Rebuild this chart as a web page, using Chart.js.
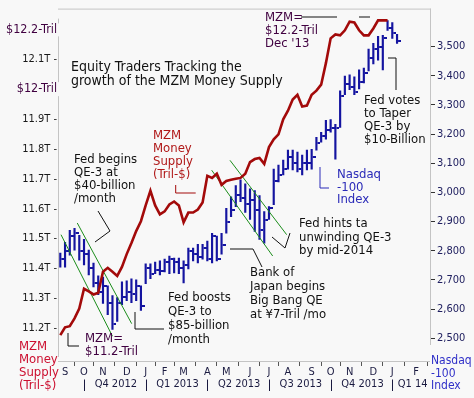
<!DOCTYPE html>
<html><head><meta charset="utf-8">
<script src="https://cdn.jsdelivr.net/npm/chart.js@4.4.1/dist/chart.umd.min.js"></script>
<style>
html,body{margin:0;padding:0;background:#f8f8f8;overflow:hidden;}
#c{display:block;}
</style></head><body>
<canvas id="c" width="474" height="398"></canvas>
<script>
// ---------- DATA ----------
const monthLabels = ['S','O','N','D','J','F','M','A','M','J','J','A','S','O','N','D','J','F'];
const monthTickWeeks = [1,5,9,14,18,22,26,31,35,40,44,48,53,57,61,66,70,75];
const quarterLabels = ['Q4 2012','Q1 2013','Q2 2013','Q3 2013','Q4 2013','Q1 14'];
const quarterStartWeeks = [5,18,31,44,57,70];

const mzmTickValues = [11.2,11.3,11.4,11.5,11.6,11.7,11.8,11.9,12.0,12.1,12.2];
const mzmTickLabels = ['11.2T','11.3T','11.4T','11.5T','11.6T','11.7T','11.8T','11.9T','$12-Tril','12.1T','$12.2-Tril'];
const ndxTickValues = [2500,2600,2700,2800,2900,3000,3100,3200,3300,3400,3500];
const ndxTickLabels = ['2,500','2,600','2,700','2,800','2,900','3,000','3,100','3,200','3,300','3,400','3,500'];

// MZM money supply, $ trillions, weekly (week 0 = 31 Aug 2012)
const mzmSupply = [
 11.177,11.203,11.207,11.233,11.266,11.332,11.323,11.313,11.319,11.389,
 11.402,11.389,11.375,11.405,11.448,11.485,11.525,11.558,11.611,11.660,
 11.611,11.581,11.591,11.614,11.624,11.611,11.554,11.587,11.587,11.597,
 11.621,11.710,11.703,11.717,11.680,11.693,11.697,11.700,11.703,11.717,
 11.756,11.766,11.770,11.750,11.806,11.832,11.849,11.899,11.928,11.965,
 11.981,11.942,11.945,11.981,11.995,12.015,12.087,12.170,12.183,12.180,
 12.197,12.226,12.223,12.197,12.180,12.180,12.203,12.230,12.230,12.230];

// Nasdaq-100 weekly high / low / close
const ndxHigh = [
 2792,2829,2870,2877,2853,2839,2802,2758,2714,2710,
 2680,2646,2639,2693,2697,2704,2700,2680,2755,2755,
 2761,2765,2771,2782,2775,2775,2765,2809,2809,2822,
 2822,2833,2860,2850,2860,2945,2985,3023,3043,3029,
 3012,3006,2989,2934,2951,3080,3094,3111,3145,3145,
 3138,3128,3145,3148,3189,3206,3247,3250,3233,3348,
 3399,3403,3396,3420,3426,3491,3511,3535,3538,3589,
 3582,3542];
const ndxLow = [
 2744,2744,2785,2802,2768,2751,2717,2676,2649,2619,
 2581,2530,2558,2615,2629,2622,2629,2595,2687,2704,
 2721,2717,2727,2721,2724,2721,2690,2738,2765,2758,
 2771,2765,2758,2765,2788,2860,2917,2951,2968,2931,
 2907,2866,2839,2826,2907,2958,3036,3060,3080,3077,
 3070,3060,3077,3080,3145,3172,3182,3206,3114,3223,
 3335,3352,3335,3355,3375,3416,3440,3453,3420,3555,
 3528,3511];
const ndxClose = [
 2770,2800,2850,2860,2800,2790,2740,2690,2660,2680,
 2620,2550,2620,2640,2660,2650,2680,2610,2740,2720,
 2735,2730,2760,2770,2760,2740,2750,2800,2790,2780,
 2810,2770,2850,2770,2820,2900,2940,2990,2980,2960,
 2975,2940,2870,2905,2945,3040,3060,3080,3120,3100,
 3080,3100,3100,3120,3170,3195,3215,3220,3220,3330,
 3370,3360,3345,3380,3410,3460,3490,3500,3530,3565,
 3545,3520];

// trend channels (week, Nasdaq level)
const channel1Lower = [[0.15,2855],[11.0,2507]];
const channel1Upper = [[3.58,2895],[15.05,2550]];
const channel2Lower = [[31.92,3076],[44.78,2782]];
const channel2Upper = [[35.78,3110],[47.73,2855]];

// ---------- STYLE ----------
const FONT = "'DejaVu Sans Condensed','DejaVu Sans',sans-serif";
const MZM_COLOR = '#a30a0a';
const NDX_COLOR = '#1414a0';
const GREEN = '#1a8c1a';
const PURPLE = '#400040';

const tickMark = document.createElement('canvas');
tickMark.width = 8; tickMark.height = 2;
(function(){const t=tickMark.getContext('2d');t.fillStyle=NDX_COLOR;t.fillRect(5,0,3,2);})();

const toXY = arr => arr.map(p => ({x:p[0], y:p[1]}));
const isSpecial = v => Math.abs(v-12.2)<1e-6 || Math.abs(v-12.0)<1e-6;

const texts = [
 {x:71, y:67, lh:14, size:14, color:'#111', lines:['Equity Traders Tracking the','growth of the MZM Money Supply']},
 {x:74, y:160, lh:13, size:13, color:'#111', lines:['Fed begins','QE-3 at','$40-billion','/month']},
 {x:153, y:136, lh:13, size:13, color:'#b01818', lines:['MZM','Money','Supply','(Tril-$)']},
 {x:85, y:339, lh:13, size:13, color:PURPLE, lines:['MZM=','$11.2-Tril']},
 {x:168, y:297.5, lh:14, size:13, color:'#111', lines:['Fed boosts','QE-3 to','$85-billion','/month']},
 {x:250, y:273, lh:14, size:13, color:'#111', lines:['Bank of','Japan begins','Big Bang QE','at ¥7-Tril /mo']},
 {x:299, y:224, lh:13.5, size:13, color:'#111', lines:['Fed hints ta','unwinding QE-3','by mid-2014']},
 {x:337, y:175, lh:12.5, size:13, color:'#2a2ab8', lines:['Nasdaq','-100','Index']},
 {x:364, y:101, lh:13, size:13, color:'#111', lines:['Fed votes','to Taper','QE-3 by','$10-Billion']},
 {x:265, y:18, lh:13, size:13, color:PURPLE, lines:['MZM=','$12.2-Tril',"Dec '13"]},
 {x:19, y:347, lh:13, size:13, color:'#cc1030', lines:['MZM','Money','Supply','(Tril-$)']},
 {x:431, y:361, lh:12.5, size:12, color:'#3030c8', lines:['Nasdaq','-100','Index']}
];
const leaders = [
 {color:'#111', pts:[[98,211],[110,231],[95,242]]},
 {color:'#111', pts:[[68,333],[68,346],[79,346]]},
 {color:MZM_COLOR, pts:[[175.7,185],[175.7,193],[195.7,193]]},
 {color:'#111', pts:[[135,312],[135,329],[164,329]]},
 {color:'#111', pts:[[230,249],[253,249],[262,267]]},
 {color:'#111', pts:[[272,237],[285,248],[290,233]]},
 {color:'#2a2ab8', pts:[[320,167],[320,188],[329,188]]},
 {color:'#111', pts:[[388,58],[396,58],[396,90]]},
 {color:'#111', pts:[[301,17],[337,17]]},
 {color:'#111', pts:[[359,17],[370,17]]}
];

const decor = {
 id:'decor',
 beforeDatasetsDraw(chart){
  const ctx=chart.ctx, a=chart.chartArea, yl=chart.scales.y;
  ctx.save(); ctx.strokeStyle='#c4c4c4'; ctx.lineWidth=1;
  const seg=(x1,y1,x2,y2)=>{ctx.beginPath();ctx.moveTo(x1,y1);ctx.lineTo(x2,y2);ctx.stroke();};
  const L=a.left+0.5, R=a.right-0.5, T=a.top+0.5, B=a.bottom-0.5;
  const g1=yl.getPixelForValue(12.2), g2=yl.getPixelForValue(12.0);
  seg(a.left,T,a.right,T);
  seg(R,a.top,R,a.bottom-17);
  seg(a.left,B,a.right-1,B);
  seg(L,a.top+10,L,g1-6); seg(L,g1+7,L,g2-7); seg(L,g2+7,L,a.bottom-5);
  ctx.restore();
 },
 afterDraw(chart){
  const ctx=chart.ctx, xs=chart.scales.x;
  ctx.save();
  ctx.font='11px '+FONT; ctx.fillStyle='#1a1a40'; ctx.textAlign='center'; ctx.textBaseline='middle';
  ctx.strokeStyle='#1a1a40'; ctx.lineWidth=1;
  const bounds = quarterStartWeeks.concat([xs.max]);
  quarterLabels.forEach((q,i)=>{
    const x0=xs.getPixelForValue(bounds[i]), x1=xs.getPixelForValue(bounds[i+1]);
    ctx.fillText(q,(x0+x1)/2+1,384.5);
  });
  quarterStartWeeks.forEach(w=>{
    const x=Math.round(xs.getPixelForValue(w))+0.5;
    ctx.beginPath();ctx.moveTo(x,379.5);ctx.lineTo(x,391);ctx.stroke();
  });
  leaders.forEach(l=>{
    ctx.strokeStyle=l.color; ctx.lineWidth=1; ctx.beginPath();
    l.pts.forEach((p,i)=> i?ctx.lineTo(p[0],p[1]):ctx.moveTo(p[0],p[1]));
    ctx.stroke();
  });
  ctx.textAlign='left'; ctx.textBaseline='middle';
  texts.forEach(t=>{
    ctx.font=t.size+'px '+(t.family||FONT); ctx.fillStyle=t.color;
    t.lines.forEach((s,i)=>ctx.fillText(s,t.x,t.y+i*t.lh));
  });
  ctx.restore();
 }
};

new Chart(document.getElementById('c'), {
 type:'line',
 data:{datasets:[
  {label:'MZM', data:mzmSupply.map((v,i)=>({x:i,y:v})), yAxisID:'y', borderColor:MZM_COLOR, borderWidth:2.6, pointRadius:0, tension:0, order:0},
  {label:'c1l', data:toXY(channel1Lower), yAxisID:'y1', borderColor:GREEN, borderWidth:1, pointRadius:0, order:1},
  {label:'c1u', data:toXY(channel1Upper), yAxisID:'y1', borderColor:GREEN, borderWidth:1, pointRadius:0, order:1},
  {label:'c2l', data:toXY(channel2Lower), yAxisID:'y1', borderColor:GREEN, borderWidth:1, pointRadius:0, order:1},
  {label:'c2u', data:toXY(channel2Upper), yAxisID:'y1', borderColor:GREEN, borderWidth:1, pointRadius:0, order:1},
  {label:'close', data:ndxClose.map((v,i)=>({x:i,y:v})), yAxisID:'y1', showLine:false, pointStyle:tickMark, pointRadius:2, order:2},
  {type:'bar', label:'NDX', data:ndxHigh.map((h,i)=>({x:i,y:[ndxLow[i],h]})), yAxisID:'y1', backgroundColor:NDX_COLOR, borderWidth:0, barThickness:1.5, order:3}
 ]},
 options:{
  responsive:false, animation:false, devicePixelRatio:1,
  layout:{padding:{top:5,left:0,right:0,bottom:0}},
  plugins:{legend:{display:false}, tooltip:{enabled:false}},
  scales:{
   x:{type:'linear', min:-0.485, max:78.16, offset:false,
      grid:{display:true, drawOnChartArea:false, drawTicks:true, tickLength:4, tickColor:'#555', lineWidth:1},
      border:{display:false},
      afterBuildTicks:s=>{s.ticks=monthTickWeeks.map(v=>({value:v}));},
      ticks:{autoSkip:false, maxRotation:0, minRotation:0, padding:0, color:'#1a1a40', font:{family:FONT,size:11},
             callback:(v,i)=>monthLabels[i]},
      afterFit:s=>{s.height=36;}},
   y:{type:'linear', position:'left', min:11.087, max:12.2695,
      grid:{display:false, drawTicks:false}, border:{display:false},
      afterBuildTicks:s=>{s.ticks=mzmTickValues.map(v=>({value:v}));},
      ticks:{padding:1,
             color:c=>(c.tick&&isSpecial(c.tick.value))?PURPLE:'#1a1a1a',
             font:c=>({family:FONT,size:(c.tick&&isSpecial(c.tick.value))?12.5:11}),
             callback:(v,i)=>{const l=mzmTickLabels[i]; return l.charAt(0)==='$'?l:l+' -';}},
      afterFit:s=>{s.width=58;}},
   y1:{type:'linear', position:'right', min:2418.6, max:3630,
      grid:{display:true, drawOnChartArea:false, drawTicks:true, tickLength:4, tickColor:'#333'}, border:{display:false},
      afterBuildTicks:s=>{s.ticks=ndxTickValues.map(v=>({value:v}));},
      ticks:{padding:2, color:'#202060', font:{family:FONT,size:11}, callback:(v,i)=>ndxTickLabels[i]},
      afterFit:s=>{s.width=43;}}
  }
 },
 plugins:[decor]
});
</script>
</body></html>
